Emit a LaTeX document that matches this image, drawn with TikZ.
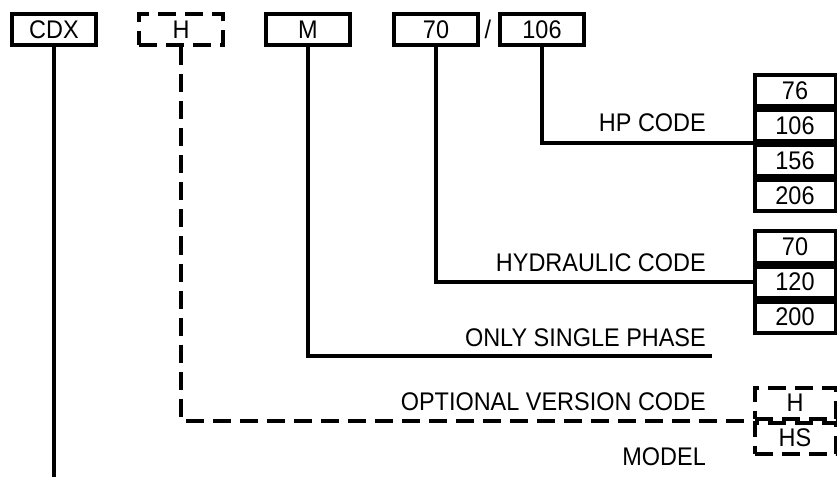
\documentclass[tikz,border=0pt]{standalone}
\usepackage{fontspec}
\setmainfont{Liberation Sans}[FakeStretch=0.92]
\usetikzlibrary{positioning, calc}
\tikzset{
    codebox/.style={rectangle, draw=black, line width=4pt, minimum width=84pt, minimum height=31pt, inner sep=0pt, font=\fontsize{25.5}{27}\selectfont},
    listbox/.style={rectangle, draw=black, line width=4pt, minimum width=81pt, minimum height=31pt, inner sep=0pt, font=\fontsize{25.5}{27}\selectfont},
    optdash/.style={dash pattern=on 18pt off 9pt},
    link/.style={line width=4pt, black},
    label/.style={anchor=east, inner sep=0pt, font=\fontsize{25.5}{27}\selectfont},
}

\begin{document}
\begin{tikzpicture}[x=1pt, y=-1pt]
    \useasboundingbox (0,0) rectangle (837,478);

    % Codice in alto
    \node[codebox] (cdx) at (54,30) {CDX};
    \node[codebox, optdash] (h) at (181,30) {H};
    \node[codebox] (m) at (308,30) {M};
    \node[codebox] (c70) at (436,30) {70};
    \node[inner sep=0pt, font=\fontsize{25.5}{27}\selectfont] (slash) at (488,29) {/};
    \node[codebox] (c106) at (542,30) {106};

    % Colonna HP
    \node[listbox] (hp76) at (795,91) {76};
    \node[listbox, below=0pt of hp76] (hp106) {106};
    \node[listbox, below=0pt of hp106] (hp156) {156};
    \node[listbox, below=0pt of hp156] (hp206) {206};

    % Colonna idraulica
    \node[listbox] (hy70) at (795,247) {70};
    \node[listbox, below=0pt of hy70] (hy120) {120};
    \node[listbox, below=0pt of hy120] (hy200) {200};

    % Versione opzionale
    \node[listbox, optdash] (vh) at (795,403) {H};
    \node[listbox, optdash, below=0pt of vh] (vhs) {HS};

    % Collegamenti
    \coordinate (cdxend) at (54,477);
    \coordinate (mend) at (712,356);
    \draw[link] (c106.south) |- (hp106.south west);
    \draw[link] (c70.south) |- (hy120.west);
    \draw[link] (m.south) |- (mend);
    \draw[link, optdash] (h.south) |- (vh.south west);
    \draw[link] (cdx.south) -- (cdxend);

    % Etichette
    \node[label] (lhp) at (706,123) {HP CODE};
    \node[label] (lhy) at (706,263) {HYDRAULIC CODE};
    \node[label] (lsp) at (706,338) {ONLY SINGLE PHASE};
    \node[label] (lopt) at (706,402) {OPTIONAL VERSION CODE};
    \node[label] (lmod) at (706,457) {MODEL};
\end{tikzpicture}
\end{document}
